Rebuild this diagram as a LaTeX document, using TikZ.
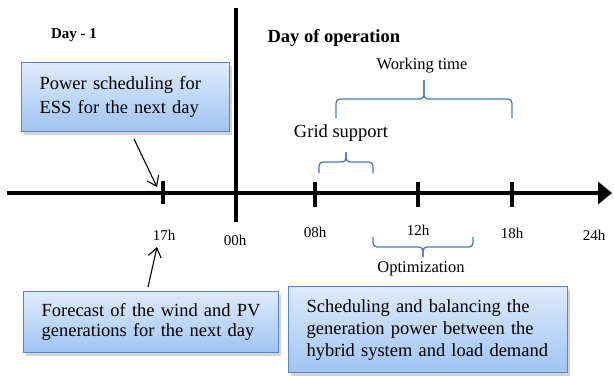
\documentclass[tikz,border=0pt]{standalone}
\usepackage{fontspec}
\setmainfont{Liberation Serif}
\usetikzlibrary{arrows.meta,shadows}
\definecolor{bracecol}{RGB}{70,120,190}
\definecolor{boxborder}{RGB}{85,135,200}
\definecolor{boxtop}{RGB}{222,235,252}
\definecolor{boxbot}{RGB}{160,196,242}
\tikzset{
  infobox/.style={draw=boxborder, line width=1.2pt, top color=boxtop, bottom color=boxbot,
    drop shadow={shadow xshift=2pt, shadow yshift=-3pt, opacity=0.35},
    inner xsep=18pt, inner ysep=0pt, align=left, anchor=north west},
  thickline/.style={line width=4pt},
  pointer/.style={line width=1.1pt, -{Straight Barb[length=9pt,width=13pt]}},
  bracepath/.style={draw=bracecol, line width=1.3pt, rounded corners=4pt},
  tlabel/.style={font=\fontsize{15}{18}\selectfont},
  slabel/.style={font=\fontsize{16.5}{20}\selectfont},
}
\begin{document}
\begin{tikzpicture}[x=1pt,y=-1pt]
\useasboundingbox (0,0) rectangle (614,378);
% axis and vertical line
\coordinate (axL) at (7,193);
\coordinate (axR) at (612,193);
\draw[thickline, -{Triangle[length=14pt,width=22pt]}] (axL) -- (axR);
\coordinate (vT) at (236,8);
\coordinate (vB) at (236,222);
\draw[thickline] (vT) -- (vB);
% ticks
\coordinate (t17a) at (163,181); \coordinate (t17b) at (163,204);
\draw[thickline] (t17a) -- (t17b);
\foreach \x/\n in {315/t08,418/t12,512/t18}{
  \coordinate (\n a) at (\x,182); \coordinate (\n b) at (\x,207);
  \draw[thickline] (\n a) -- (\n b);
}
% tick labels
\node[tlabel] (l17) at (164,235) {17h};
\node[tlabel] (l00) at (235,240) {00h};
\node[tlabel] (l08) at (315,232) {08h};
\node[tlabel] (l12) at (418,230) {12h};
\node[tlabel] (l18) at (512,233) {18h};
\node[tlabel] (l24) at (594,235) {24h};
% headings
\node[font=\bfseries\fontsize{15}{18}\selectfont] (d1) at (74,35) {Day - 1};
\node[font=\bfseries\fontsize{18.5}{22}\selectfont, anchor=west] (dop) at (264,38) {Day of operation};
% boxes
\node[infobox, text width=172pt, minimum height=69pt, font=\fontsize{18.5}{24}\selectfont] (b1) at (21,62)
  {Power scheduling for\\ESS for the next day};
\node[infobox, text width=219pt, minimum height=61pt, font=\fontsize{18.5}{20}\selectfont] (b2) at (23,291)
  {Forecast of the wind and PV\\generations for the next day};
\node[infobox, text width=243pt, minimum height=86pt, inner xsep=18pt, font=\fontsize{18.5}{22}\selectfont] (b3) at (288,286)
  {Scheduling and balancing the\\generation power between the\\hybrid system and load demand};
% pointers
\coordinate (p1s) at (134,139);
\coordinate (p1e) at (157,187);
\draw[pointer] (p1s) -- (p1e);
\coordinate (p2s) at (148,287);
\coordinate (p2e) at (157,247);
\draw[pointer] (p2s) -- (p2e);
% braces
\draw[bracepath] (336,118) -- (336,99) -- (424,99) -- (424,80);
\draw[bracepath] (424,80) -- (424,99) -- (512,99) -- (512,118);
\node[slabel] (wt) at (422,66) {Working time};
\draw[bracepath] (319,173) -- (319,162) -- (346,162) -- (346,152);
\draw[bracepath] (346,152) -- (346,162) -- (373,162) -- (373,173);
\node[font=\fontsize{18.5}{22}\selectfont] (gs) at (341,133) {Grid support};
\draw[bracepath] (373,237) -- (373,247) -- (423,247) -- (423,257);
\draw[bracepath] (423,257) -- (423,247) -- (473,247) -- (473,237);
\node[slabel] (op) at (421,269) {Optimization};
\end{tikzpicture}
\end{document}
